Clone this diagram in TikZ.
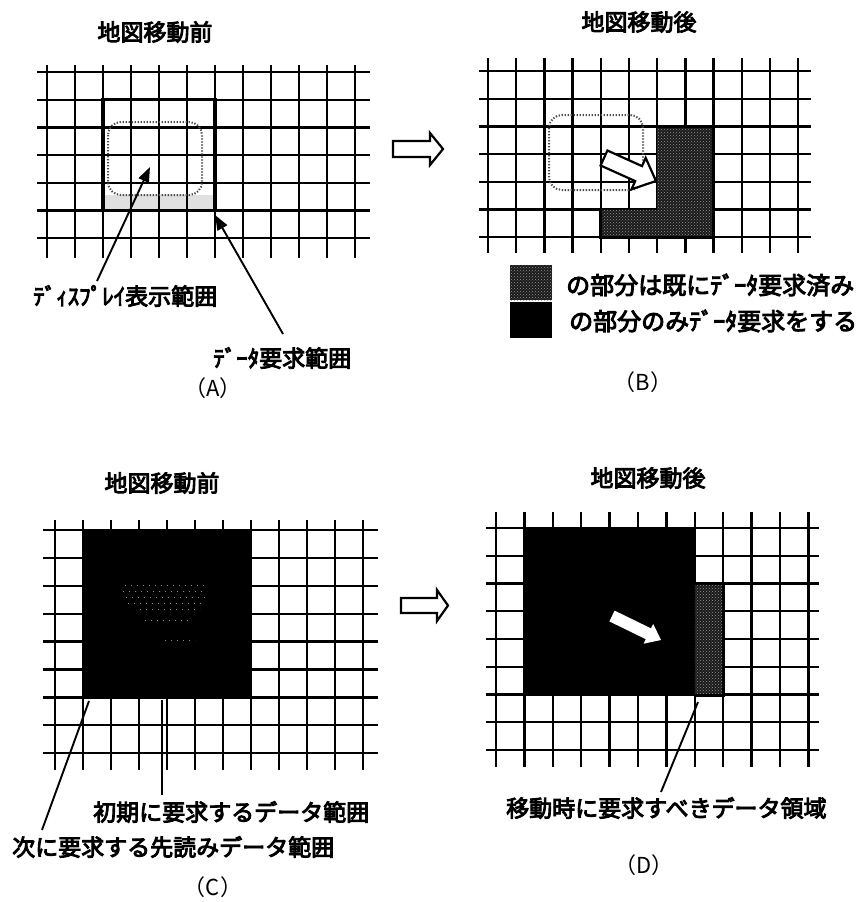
\documentclass[tikz,border=0pt]{standalone}
\usepackage{fontspec}
\newfontfamily\jp[FakeBold=4]{Noto Sans CJK JP}
\newfontfamily\jpn{Noto Sans CJK JP}
\usetikzlibrary{arrows.meta,patterns}
\begin{document}
\begin{tikzpicture}[x=1pt,y=-1pt,
  gridln/.style={line width=2.3pt},
  reqbox/.style={line width=3.2pt},
  disp/.style={line width=2pt, dash pattern=on 1.3pt off 1.7pt, rounded corners=13pt, black!70},
  lead/.style={line width=1.9pt, -{Triangle[length=15pt,width=11pt]}},
  thinlead/.style={line width=1.6pt},
  ttl/.style={font=\jp\fontsize{23}{26}\selectfont, inner sep=0pt},
  lbl/.style={font=\jp\fontsize{23}{26}\selectfont, inner sep=0pt, anchor=west},
  lgd/.style={font=\jp\fontsize{24}{26}\selectfont, inner sep=0pt, anchor=west},
  pcap/.style={font=\jpn\fontsize{22}{26}\selectfont, inner sep=0pt},
  stip/.style={fill=black!90, postaction={pattern=crosshatch dots, pattern color=black!40}},
  hollow/.style={line width=2.2pt, fill=white, line join=miter}
]
\useasboundingbox[fill=white] (0,0) rectangle (862,902);

% ================= Panel A =================
\node[ttl] (ttlA) at (155,32) {地図移動前};
\fill[black!12] (105,195) rectangle (213,209);
\foreach \i in {0,...,11} \draw[gridln] ({47+28*\i},65) -- ({47+28*\i},258);
\foreach \j in {0,...,6} \draw[gridln] (37,{72+27.7*\j}) -- (370,{72+27.7*\j});
\draw[reqbox] (103,99.7) rectangle (215,210.5);
\draw[disp] (108,122) rectangle (202,195);
\node[lbl] (lblDisp) at (33,296) {ﾃﾞｨｽﾌﾟﾚｲ表示範囲};
\node[lbl] (lblReq) at (213,358) {ﾃﾞｰﾀ要求範囲};
\coordinate (dispTail) at (97,281);
\coordinate (dispTip) at (150,167);
\coordinate (reqTail) at (283,334);
\coordinate (reqTip) at (215,215);
\draw[lead] (dispTail) -- (dispTip);
\draw[lead] (reqTail) -- (reqTip);
\node[pcap] (capA) at (213,388) {（A）};

% hollow arrow A -> B
\draw[hollow] (393,141) -- (430,141) -- (430,133) -- (443,149) -- (430,165) -- (430,157) -- (393,157) -- cycle;

% ================= Panel B =================
\node[ttl] (ttlB) at (639,22) {地図移動後};
\foreach \i in {0,...,11} \draw[gridln] ({488+28.2*\i},58) -- ({488+28.2*\i},253);
\foreach \j in {0,...,6} \draw[gridln] (479,{71+27.7*\j}) -- (811,{71+27.7*\j});
\draw[disp] (549,115) rectangle (643,190);
\path[stip] (657.2,126.4) -- (713.6,126.4) -- (713.6,237.2) -- (600.8,237.2) -- (600.8,209.5) -- (657.2,209.5) -- cycle;
\draw[reqbox] (657.2,126.4) -- (713.6,126.4) -- (713.6,237.2) -- (600.8,237.2) -- (600.8,209.5);
% white moving arrow
\draw[line width=2.2pt, fill=white, line join=miter] (600.6,165.5) -- (635.2,181.1) -- (631.5,189.3) -- (656,181) -- (645.7,157.9) -- (642.0,166.1) -- (607.4,150.5) -- cycle;
% legend
\path[stip] (510,265) rectangle (552,300);
\fill[black] (510,302) rectangle (552,338);
\node[lgd] (lgdDone) at (566,285) {の部分は既にﾃﾞｰﾀ要求済み};
\node[lgd] (lgdOnly) at (569,321) {の部分のみﾃﾞｰﾀ要求をする};
\node[pcap] (capB) at (643,382) {（B）};

% ================= Panel C =================
\node[ttl] (ttlC) at (162,483) {地図移動前};
\foreach \i in {0,...,11} \draw[gridln] ({55+28*\i},520) -- ({55+28*\i},770);
\foreach \j in {0,...,8} \draw[gridln] (43,{530+27.9*\j}) -- (378,{530+27.9*\j});
\fill[black] (82,529) rectangle (252,699);
\foreach \yy/\xa/\xb in {585/125/205, 591/123/207, 597/126/205, 603/128/203, 609/140/200, 620/145/190, 640/165/195}
  \draw[black!45, line width=1pt, dash pattern=on 1pt off 5pt] (\xa,\yy) -- (\xb,\yy);
\coordinate (prefTail) at (42,830);
\coordinate (prefHead) at (89,701);
\coordinate (initTop) at (162,700);
\coordinate (initBot) at (162,795);
\draw[line width=1.9pt] (prefTail) -- (prefHead);
\draw[thinlead] (initTop) -- (initBot);
\node[lbl] (lblInit) at (93,812) {初期に要求するデータ範囲};
\node[lbl] (lblPref) at (12,847) {次に要求する先読みデータ範囲};
\node[pcap] (capC) at (213,887) {（C）};

% hollow arrow C -> D
\draw[hollow] (401,598) -- (437,598) -- (437,590) -- (448,605.5) -- (437,621) -- (437,613) -- (401,613) -- cycle;

% ================= Panel D =================
\node[ttl] (ttlD) at (648,478) {地図移動後};
\foreach \i in {0,...,11} \draw[gridln] ({496+28.4*\i},512) -- ({496+28.4*\i},767);
\foreach \j in {0,...,8} \draw[gridln] (486,{528+27.75*\j}) -- (819,{528+27.75*\j});
\fill[black] (523.5,527) rectangle (695,696);
\path[stip] (694.8,583.5) rectangle (723.2,695.5);
\draw[reqbox] (694.8,583.5) -- (723.2,583.5) -- (723.2,695.5) -- (694.8,695.5);
\fill[white] (609.4,621.4) -- (645.8,639.2) -- (643.6,643.7) -- (661,640) -- (653.2,623.9) -- (651.0,628.4) -- (614.6,610.6) -- cycle;
\coordinate (moveTop) at (698,702);
\coordinate (moveBot) at (661,792);
\draw[line width=1.9pt] (moveTop) -- (moveBot);
\node[lbl] (lblMove) at (506,808) {移動時に要求すべきデータ領域};
\node[pcap] (capD) at (644,865) {（D）};
\end{tikzpicture}
\end{document}
